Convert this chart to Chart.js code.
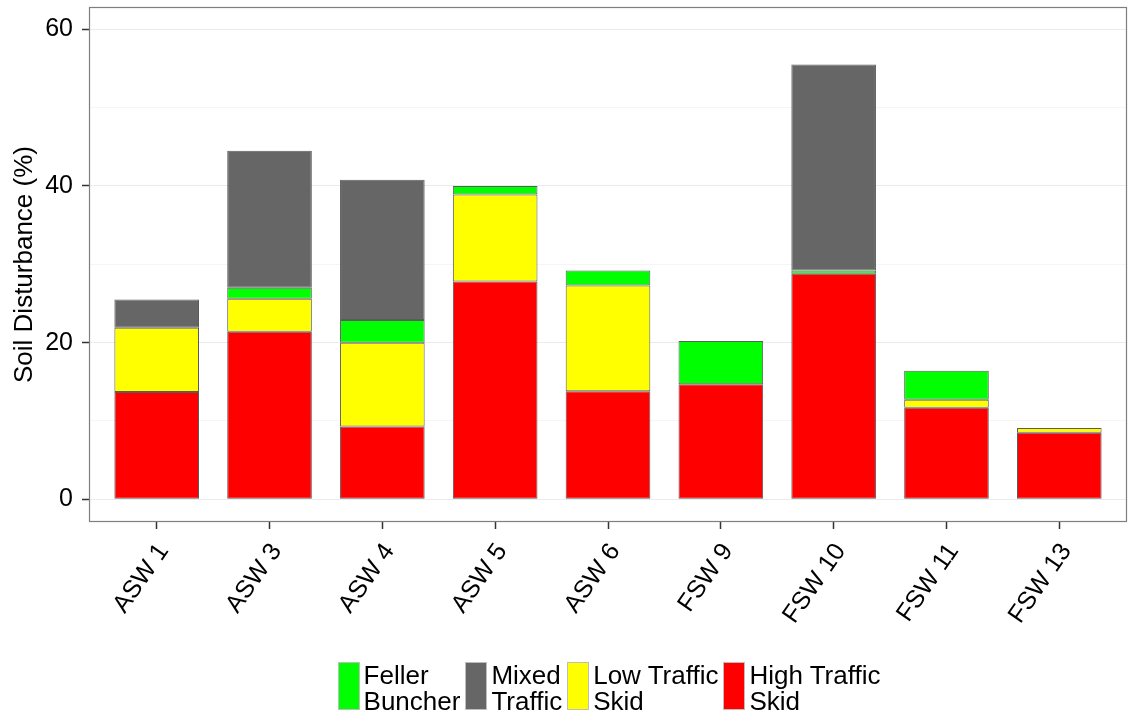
<!DOCTYPE html>
<html>
<head>
<meta charset="utf-8">
<script src="https://cdn.jsdelivr.net/npm/chart.js@4"></script>
<style>
  body { margin: 0; background: #fff; font-family: "Liberation Sans", Arial, sans-serif; }
  #wrap { position: relative; width: 1131px; height: 717px; }
  #legend { position: absolute; top: 662px; left: 0; width: 1131px; padding-left: 92px; box-sizing: border-box;
            display: flex; justify-content: center; font-size: 26px; line-height: 26px; color: #000; }
  .item { display: flex; align-items: stretch; margin-right: 5px; }
  .box { width: 20px; height: 46px; border: 1px solid #bdbdbd; margin-right: 4px; }
</style>
</head>
<body>
<div id="wrap">
  <canvas id="chart" width="1131" height="717"></canvas>
  <div id="legend"></div>
</div>
<script>
// sites along the x axis
const sites = ['ASW 1', 'ASW 3', 'ASW 4', 'ASW 5', 'ASW 6', 'FSW 9', 'FSW 10', 'FSW 11', 'FSW 13'];
// disturbance (%) per class, stacked bottom to top
const highTraffic = [13.7, 21.4, 9.3, 27.8, 13.8, 14.7, 28.8, 11.7, 8.5];
const lowTraffic  = [8.2, 4.2, 10.7, 11.1, 13.5, 0, 0, 1.0, 0.6];
const feller      = [0, 1.4, 2.9, 1.1, 1.9, 5.5, 0.4, 3.7, 0];
const mixed       = [3.6, 17.5, 17.9, 0, 0, 0, 26.3, 0, 0];
const yTicks = [0, 10, 20, 30, 40, 50, 60];

const series = [
    {label: 'High Traffic\nSkid', data: highTraffic, color: '#FF0000'},
    {label: 'Low Traffic\nSkid', data: lowTraffic, color: '#FFFF00'},
    {label: 'Feller\nBuncher', data: feller, color: '#00FF00'},
    {label: 'Mixed\nTraffic', data: mixed, color: '#666666'}
];
const legendOrder = [2, 3, 1, 0];

const datasets = series.map(s => ({
    label: s.label,
    data: s.data.map((v, i) => ({x: i + 1, y: v > 0 ? v : null})),
    backgroundColor: s.color,
    borderColor: 'rgba(50,50,50,0.8)',
    borderWidth: 1,
    borderSkipped: false,
    barPercentage: 0.75,
    categoryPercentage: 1,
    stack: 'a'
}));

// panel border on all four sides
const panelBorder = {
    id: 'panelBorder',
    afterDraw(chart) {
        const a = chart.chartArea, c = chart.ctx;
        c.save();
        c.strokeStyle = '#7F7F7F';
        c.lineWidth = 1.2;
        c.strokeRect(a.left + 0.5, a.top + 0.5, a.right - a.left - 1, a.bottom - a.top - 1);
        c.restore();
    }
};

const font = {family: '"Liberation Sans", Arial, sans-serif', size: 25};

new Chart(document.getElementById('chart'), {
    type: 'bar',
    data: {datasets: datasets},
    options: {
        responsive: false,
        animation: false,
        devicePixelRatio: 1,
        layout: {padding: {top: 7, right: 4, left: 0, bottom: 0}},
        plugins: {legend: {display: false}, tooltip: {enabled: false}},
        scales: {
            x: {
                type: 'linear',
                min: 0.4,
                max: 9.6,
                offset: false,
                stacked: true,
                afterBuildTicks: scale => { scale.ticks = sites.map((s, i) => ({value: i + 1})); },
                afterFit: scale => { scale.height = 195; scale.paddingLeft = 0; scale.paddingRight = 0; },
                grid: {drawOnChartArea: false, offset: false, tickLength: 7, tickColor: '#333', tickWidth: 1.5},
                border: {display: false},
                ticks: {
                    autoSkip: false,
                    minRotation: 55,
                    maxRotation: 55,
                    padding: 9,
                    labelOffset: 7,
                    color: '#000',
                    font: font,
                    callback: v => sites[v - 1]
                }
            },
            y: {
                min: -2.9,
                max: 62.85,
                stacked: true,
                afterBuildTicks: scale => { scale.ticks = yTicks.map(v => ({value: v})); },
                afterFit: scale => { scale.width = 89; scale.paddingTop = 0; scale.paddingBottom = 0; },
                grid: {
                    color: ctx => ctx.tick && ctx.tick.value % 20 === 0 ? '#EBEBEB' : '#F5F5F5',
                    tickColor: ctx => ctx.tick && ctx.tick.value % 20 === 0 ? '#333' : 'rgba(0,0,0,0)',
                    tickLength: 7,
                    tickWidth: 1.5
                },
                border: {display: false},
                ticks: {
                    padding: 9,
                    color: '#000',
                    font: font,
                    callback: v => v % 20 === 0 ? v : ''
                },
                title: {
                    display: true,
                    text: 'Soil Disturbance (%)',
                    color: '#000',
                    font: {family: font.family, size: 26},
                    padding: {top: 9, bottom: 0}
                }
            }
        }
    },
    plugins: [panelBorder]
});

// two-line legend under the plot
const legend = document.getElementById('legend');
legendOrder.forEach(k => {
    const s = series[k];
    const item = document.createElement('div');
    item.className = 'item';
    const box = document.createElement('div');
    box.className = 'box';
    box.style.background = s.color;
    const txt = document.createElement('div');
    txt.innerHTML = s.label.replace('\n', '<br>');
    item.appendChild(box);
    item.appendChild(txt);
    legend.appendChild(item);
});
</script>
</body>
</html>
